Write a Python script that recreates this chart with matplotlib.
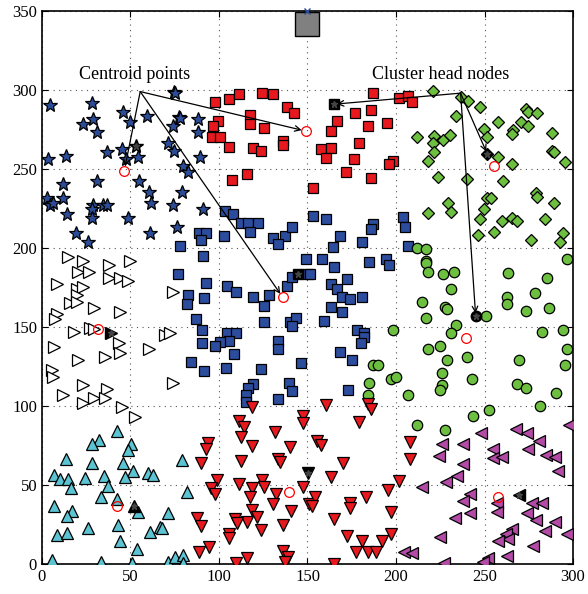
import numpy as np
import matplotlib
matplotlib.use("Agg")
import matplotlib.pyplot as plt

plt.rcParams['font.family'] = ['Liberation Serif', 'DejaVu Serif']

# node positions per cluster (x, y)
stars = [(4.5, 290.5), (28, 292), (46, 286), (59.5, 283.5), (29, 281.5), (49.7, 280), (23.3, 278.5),
         (31, 273.6), (74, 277), (77.6, 283), (74.7, 298.5), (71, 266.6), (74.7, 261.6), (45, 262.5),
         (37, 260.6), (47.3, 256.3), (54, 257.4), (13.4, 258.4), (3.6, 256.3), (31.2, 242.6),
         (54.8, 242.6), (12, 240.3), (60.6, 235.2), (12, 231.5), (3, 231.5), (4.5, 227), (6.4, 228.3),
         (28.6, 227), (34.3, 227), (36.5, 227), (61.6, 228.3), (73.8, 227), (28, 224.5), (14.3, 221.3),
         (28, 218.8), (48.8, 218.8), (76.4, 213.5), (19.2, 209.3), (61, 209.3), (26.2, 204),
         (75, 298), (78, 282.5), (88, 281.5), (88, 273.6), (89, 257.4), (79.8, 252), (82.7, 248.3),
         (79, 235.2), (90.8, 224.5)]

red_squares = [(97.7, 292.2), (105.6, 294.3), (111.5, 297.3), (124.5, 298.3), (130.7, 297.3),
               (138.2, 289.4), (142.4, 285.2), (117.5, 284), (117.5, 278.3), (99.6, 280.6),
               (96.8, 277.4), (125.6, 276.1), (95.8, 270), (100.6, 270), (136.3, 268), (136.3, 265),
               (105.6, 264.1), (119.4, 263), (123.5, 261.4), (115.6, 246.8), (107.5, 243),
               (187.2, 298.3), (201.9, 295.1), (207, 296.2), (208.9, 292.2), (177, 285.2),
               (185.9, 287.3), (166.5, 280.4), (163.3, 274), (184, 277.2), (195, 279.3), (179, 266.3),
               (157.5, 262.4), (163.3, 263), (160.5, 257.2), (176.3, 256.3), (198.1, 255.3),
               (196.2, 253.2), (171.6, 248.3), (185.9, 244.5), (153.3, 238.2)]

blue_squares = [(103.4, 223.4), (107.7, 221.3), (112.4, 216), (116.2, 216), (122.2, 216), (117.5, 210.3),
                (88.9, 209.3), (92.7, 209.3), (89.8, 205), (102.8, 207.6), (78, 201.5), (130.7, 206.5),
                (137.3, 207.4), (141.4, 213), (133.5, 202.3), (153.3, 220.3), (160.3, 218.2),
                (204.1, 219.5), (205.1, 213.1), (187.2, 215.2), (185.9, 212), (168.4, 207.4),
                (181, 203.7), (164.2, 200.4), (207, 201.5), (90.8, 195.1), (149.2, 193), (77, 183.4),
                (92.7, 178.1), (104.7, 176.2), (109.6, 172), (119.4, 169.2), (128.2, 170.3),
                (125.6, 163.3), (138.2, 176.2), (141.4, 181.5), (150.5, 183.4), (82.7, 170.3),
                (91.7, 168.2), (81.7, 164.4), (86.8, 155.1), (90.6, 148.1), (104.7, 146), (109.6, 146),
                (105.6, 141.1), (100.6, 140.3), (97.7, 138), (90.6, 140.1), (125.6, 153.4),
                (140.1, 153.4), (143.3, 156), (141.4, 150.8), (133.5, 141.1), (133.5, 135.9),
                (108.6, 132.9), (84, 128), (91.7, 122.2), (103.8, 124.2), (123.6, 123.2), (146.3, 127),
                (119.4, 113.9), (116.5, 111.2), (115.3, 107), (115.3, 102.7), (139.5, 114.4),
                (141.4, 109.7), (133.5, 104.2), (158.4, 193), (165.1, 188.2), (184.9, 190.9),
                (194.2, 193), (196.2, 189.2), (151.4, 183.4), (172.1, 180.2), (163.1, 177.2),
                (166.5, 173.9), (169.3, 169.2), (174, 167.7), (181, 169.2), (163.3, 162.9),
                (169.3, 159.3), (159.3, 154), (178.1, 148.1), (182, 146), (182, 143.5), (180.2, 140.1),
                (168.4, 134), (175, 129.1), (173, 110.1)]

diamonds = [(220.7, 299.4), (211.7, 270), (221.6, 270.9), (220.7, 266.3), (221.6, 260.6), (217.9, 255.3),
            (223.9, 244.8), (217.9, 222.3), (236.7, 295.4), (240.8, 293.2), (247.5, 289.4),
            (233.7, 283.7), (257.5, 279.5), (249.7, 275.3), (251.6, 270.5), (273.3, 288), (274.4, 286),
            (279.5, 285.2), (270.6, 279.5), (274.4, 277.2), (266.3, 274.7), (265.4, 272.2),
            (288.3, 272.6), (226.7, 268.4), (230.5, 271.5), (257.5, 257.4), (265.7, 253.2),
            (288.3, 261.6), (289, 260.5), (295.5, 254.2), (239.9, 243.5), (260.6, 242.4), (251.6, 231.5),
            (253.5, 231.5), (249.7, 224.5), (247.5, 218.2), (259.7, 216.9), (265.4, 218.8),
            (268.5, 217.1), (279.1, 234.6), (279.8, 232.5), (289.3, 228.3), (284.2, 218.2),
            (229.5, 228.3), (230.9, 222.6), (246.5, 208.2), (255.5, 210.4), (276.3, 205),
            (294.2, 209.3), (292.7, 204)]

circles = [(211.7, 200.2), (216.8, 199.2), (216.8, 192), (216.8, 190.3), (217.9, 185.1), (214.9, 166),
           (216.8, 156), (198.1, 148.1), (217.9, 136.1), (186.8, 126), (190, 126), (197, 117.1),
           (199.8, 118.2), (184.9, 114.8), (184, 107), (207, 107), (226.7, 183.4), (232.8, 185),
           (230.9, 173.9), (227.7, 162.5), (229, 161.2), (233.9, 151.3), (230.9, 146), (224.9, 138),
           (229, 129.1), (225.8, 121.1), (225.8, 113.3), (224.9, 110.1), (239.9, 131.2),
           (242.8, 117.1), (250.7, 157), (263.4, 184), (285.1, 181.2), (262.5, 169.2), (262.5, 164.4),
           (278.5, 171.3), (273.4, 160.3), (286.6, 162.3), (296.4, 193), (282.6, 147), (294.5, 148.1),
           (296.4, 136.1), (295.5, 126), (269.5, 129.1), (268.5, 113.9), (273.4, 111.2), (290.2, 108),
           (281.4, 100.2), (252.5, 97.5), (243.7, 93.9), (227.7, 84.8), (211.7, 88)]

white_tri = [(14.9, 194.1), (23.3, 192), (49.7, 192), (20.5, 185), (26.7, 185), (37.9, 189.2),
             (37.9, 181.2), (44.1, 181.2), (48.8, 179.1), (8.6, 177.2), (19.6, 173.9), (23.3, 175.5),
             (19.6, 170.3), (15.8, 165.4), (19.6, 166), (29.4, 161.8), (44.1, 159.3), (8.3, 158.2),
             (7.3, 154.9), (18.2, 147), (27.1, 149.2), (29.5, 149), (43.5, 139.7), (44.1, 133.4),
             (35.6, 131.3), (20.5, 129.1), (6.8, 137.2), (60.6, 136.1), (69.5, 144.9), (72.3, 146.4),
             (73.8, 172), (5.5, 122.8), (6.4, 118.6), (23, 113.3), (36.5, 110.5), (29.4, 105.3),
             (35.6, 104.9), (12, 107), (23.3, 102.1), (45, 99.6), (74.2, 114.8), (52.5, 92.8)]

cyan_tri = [(42.2, 84.4), (32.2, 78.5), (28.1, 75.8), (50.1, 75.8), (48.8, 72.2), (13.4, 66.5),
            (28.1, 63.7), (45.9, 63.7), (51.2, 58.9), (6.8, 56.3), (10.2, 53.8), (14.5, 53.8),
            (24.3, 54.2), (35, 55.7), (46.9, 55.3), (59.7, 57.8), (62.9, 56.3), (16.2, 48.3),
            (37.1, 49.4), (33.2, 42.6), (42.2, 40.9), (54, 33.1), (7, 36.7), (17.1, 33.5), (14.3, 30.4),
            (71, 32.5), (26.2, 23), (43.1, 24.7), (8.3, 18.4), (14.3, 19.8), (61, 20.4), (66.7, 23.6),
            (68, 22.6), (44.1, 14.8), (53.8, 9.5), (5.5, 2.5), (33.2, 1.5), (51, 0.4), (71, 1.5),
            (75.1, 4.6), (79, 66), (81.7, 45.4), (79.5, 5.7), (79.5, 0.4)]

red_tri = [(118.5, 99.6), (111.5, 90.8), (114.1, 86.9), (112.4, 80.1), (118.5, 74.7), (131.6, 83.3),
           (147.3, 93.9), (147.3, 89.4), (140.1, 74.3), (93.6, 76.4), (92.5, 72.6), (89.7, 63.7),
           (112.4, 65.4), (133.5, 66.3), (134.5, 64.4), (98.7, 53.2), (95.5, 48.3), (97.7, 44.1),
           (111.5, 50.6), (118.5, 47.9), (117.5, 42.6), (124.5, 53.2), (125.6, 48.5), (132.2, 44.3),
           (147.3, 48.5), (130.3, 37.8), (140.5, 33.8), (118.5, 34.2), (121.6, 29.6), (115.6, 26.4),
           (109, 28.3), (110, 25.8), (87.4, 28.9), (89.8, 24.3), (105.6, 18.8), (105.6, 16.6),
           (123.6, 21.5), (136.3, 24.7), (94.5, 11), (88.7, 7.4), (115.6, 3.6), (109.6, 0.4),
           (136.3, 8.4), (139.2, 4.6), (137.3, 1.1), (151, 38), (160.3, 100.6), (184, 101.3),
           (185.9, 98.1), (179.1, 90.1), (155.2, 78), (157.5, 75.3), (170.2, 63.7), (207.9, 77),
           (207.9, 66.5), (163.3, 55.3), (154.2, 42.6), (152.4, 36.7), (174, 38.4), (174, 35.3),
           (183, 42.6), (195.6, 46.8), (201.9, 52.7), (197, 33.1), (165.1, 28.5), (172.1, 17.7),
           (181, 14.6), (191.9, 14.6), (197, 18.8), (177.2, 7.4), (184, 7.4), (188.7, 7.4), (165.1, 0)]

magenta_tri = [(297.9, 88), (267.8, 85.3), (273.8, 83.1), (248, 83.1), (281, 77.8), (225.8, 75.8),
               (238, 75.8), (254.6, 72.6), (274.7, 72.8), (284.7, 69), (289.8, 67.9), (224.5, 68.4),
               (255, 66.9), (259.7, 67.9), (238, 63.1), (291.7, 59), (234.3, 55.7), (228.2, 52.1),
               (241.8, 44.1), (238, 39.9), (256.9, 38.8), (276.6, 38.8), (282.3, 38.8), (241.8, 32.1),
               (256.9, 32.7), (273.8, 32.1), (279.1, 27.8), (289.8, 26.8), (233.3, 28.9), (284.2, 20.9),
               (296.8, 18.8), (265.4, 22), (262.1, 18.8), (263.4, 15.6), (257.8, 14.6), (224.9, 16.9),
               (277.6, 11.6), (262.9, 5.1), (252.1, 4), (249.3, 1.5), (227.1, 0.4), (214.5, 48.9),
               (204.5, 7.8), (208.9, 6.8)]

# cluster heads and centroids, in the same cluster order
heads = [(53, 264.5), (165, 291), (144.5, 183.4), (251.6, 259.5), (245, 157),
         (38.8, 146), (52.1, 36.7), (150.5, 57.8), (269.7, 43.7)]
centroids = [(46.5, 249), (149, 274), (136, 168.8), (255.5, 251.9), (239.5, 143.2),
             (31.8, 148.5), (42.2, 36.7), (139.5, 45.4), (257.5, 42.6)]
sink = (150, 342)

clusters = [
    (stars, '*', '#2b4c97', 10),
    (red_squares, 's', '#e8191e', 6.5),
    (blue_squares, 's', '#2c4d9e', 6.5),
    (diamonds, 'D', '#6cbf3f', 6.5),
    (circles, 'o', '#6cbf3f', 7.5),
    (white_tri, '>', 'white', 8),
    (cyan_tri, '^', '#5cc3d2', 8),
    (red_tri, 'v', '#e8191e', 8),
    (magenta_tri, '<', '#b24aa6', 8),
]

fig = plt.figure(figsize=(5.88, 5.94), dpi=100)
ax = fig.add_axes([0.0714, 0.0505, 0.9031, 0.931])

for (pts, mk, col, ms), h in zip(clusters, heads):
    p = np.array(pts)
    ax.plot(p[:, 0], p[:, 1], mk, color=col, mfc=col, mec='black', ms=ms, mew=0.9, zorder=3)
    ax.plot(h[0], h[1], mk, mfc='black', mec='black', ms=ms, zorder=4)
    ax.plot(h[0], h[1], '*', color='#444444', ms=5, zorder=5)

c = np.array(centroids)
ax.plot(c[:, 0], c[:, 1], 'o', mfc='none', mec='red', ms=7, mew=0.9, zorder=6)

ax.plot(sink[0], sink[1], 's', mfc='#808080', mec='black', ms=17, zorder=6, clip_on=False)
ax.plot(150, 350, 'x', color='#2b4c97', ms=4, zorder=7, clip_on=False)

# annotations
ax.text(52.5, 310, 'Centroid points', ha='center', va='center', fontsize=13)
for i in [0, 1, 2]:
    ax.annotate('', xy=centroids[i], xytext=(55.5, 299),
                arrowprops=dict(arrowstyle='->', lw=0.9, color='black', shrinkA=0, shrinkB=3))
ax.text(225, 310, 'Cluster head nodes', ha='center', va='center', fontsize=13)
for i in [1, 3, 4]:
    ax.annotate('', xy=heads[i], xytext=(236.5, 298),
                arrowprops=dict(arrowstyle='->', lw=0.9, color='black', shrinkA=0, shrinkB=2))

ax.set_xlim(0, 300)
ax.set_ylim(0, 350)
ax.set_xticks(np.arange(0, 301, 50))
ax.set_yticks(np.arange(0, 351, 50))
ax.tick_params(direction='in', top=True, right=True, labelsize=12, length=4)
ax.grid(True, linestyle=(0, (1, 4)), color='#555555', lw=0.8)
for s in ax.spines.values():
    s.set_linewidth(1.2)

fig.savefig('out.png', dpi=100)
